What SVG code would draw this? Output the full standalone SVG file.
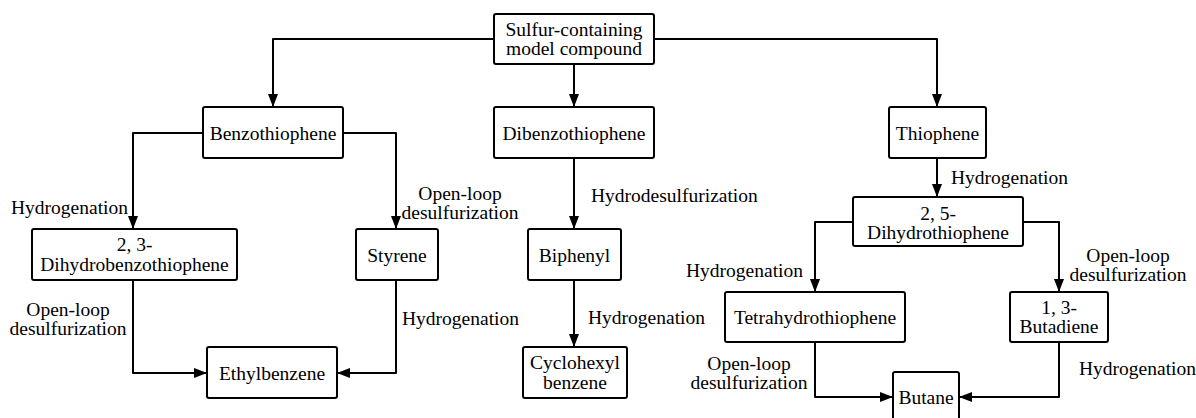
<svg xmlns="http://www.w3.org/2000/svg" width="1196" height="418" viewBox="0 0 1196 418">
<style>
.box{fill:#fff;stroke:#000;stroke-width:2;}
text{font-family:'Times New Roman',Times,'Nimbus Roman','Noto Serif','FreeSerif','Tinos','Liberation Serif','DejaVu Serif',serif;font-size:19.5px;fill:#000;}
.c{text-anchor:middle;}
.e{text-anchor:end;}
.ln{fill:none;stroke:#000;stroke-width:2;stroke-linejoin:round;marker-end:url(#ah);}
</style>
<defs>
<marker id="ah" markerUnits="userSpaceOnUse" markerWidth="14" markerHeight="10" viewBox="0 0 14 10" refX="13" refY="5" orient="auto">
<path d="M0,0 L13,5 L0,10 Z" fill="#000"/>
</marker>
</defs>
<rect width="1196" height="418" fill="#fff"/>
<g id="connectors">
<path class="ln" d="M494 39 H273 V107"/>
<path class="ln" d="M574 64 V107"/>
<path class="ln" d="M654 39 H937 V107"/>
<path class="ln" d="M203 133 H133 V229"/>
<path class="ln" d="M343 133 H396 V229"/>
<path class="ln" d="M574 158 V229"/>
<path class="ln" d="M937 158 V197"/>
<path class="ln" d="M133 280 V373 H207"/>
<path class="ln" d="M396 280 V373 H337"/>
<path class="ln" d="M574 280 V347"/>
<path class="ln" d="M853 222 H815 V292"/>
<path class="ln" d="M1023 222 H1059 V292"/>
<path class="ln" d="M815 342 V397 H893"/>
<path class="ln" d="M1059 342 V397 H959"/>
</g>
<g id="labels">
<text class="e" x="128" y="213.5">Hydrogenation</text>
<text class="c" x="460" y="199.5">Open-loop</text>
<text class="c" x="460" y="219">desulfurization</text>
<text x="591" y="201.5">Hydrodesulfurization</text>
<text class="c" x="68" y="315.5">Open-loop</text>
<text class="c" x="68" y="334.5">desulfurization</text>
<text x="402" y="324.5">Hydrogenation</text>
<text x="588" y="323.5">Hydrogenation</text>
<text x="951" y="183.5">Hydrogenation</text>
<text class="e" x="803" y="276.5">Hydrogenation</text>
<text class="c" x="1128" y="261.5">Open-loop</text>
<text class="c" x="1128" y="280.5">desulfurization</text>
<text class="c" x="749" y="369.5">Open-loop</text>
<text class="c" x="749" y="388.5">desulfurization</text>
<text x="1079" y="374.5">Hydrogenation</text>
</g>
<g id="n-top">
<rect class="box" x="494" y="14" width="160" height="50" rx="2"/>
<text class="c" x="574" y="35.5">Sulfur-containing</text>
<text class="c" x="574" y="54.5">model compound</text>
</g>
<g id="n-benzothiophene">
<rect class="box" x="203" y="107" width="140" height="51" rx="2"/>
<text class="c" x="273" y="139.5">Benzothiophene</text>
</g>
<g id="n-dibenzothiophene">
<rect class="box" x="494" y="107" width="160" height="51" rx="2"/>
<text class="c" x="574" y="139.5">Dibenzothiophene</text>
</g>
<g id="n-thiophene">
<rect class="box" x="889" y="107" width="97" height="51" rx="2"/>
<text class="c" x="937.5" y="139.5">Thiophene</text>
</g>
<g id="n-dihydrobenzothiophene">
<rect class="box" x="32" y="229" width="205" height="51" rx="2"/>
<text class="c" x="134.5" y="251">2, 3-</text>
<text class="c" x="134.5" y="271">Dihydrobenzothiophene</text>
</g>
<g id="n-styrene">
<rect class="box" x="356" y="229" width="82" height="51" rx="2"/>
<text class="c" x="397" y="261.5">Styrene</text>
</g>
<g id="n-biphenyl">
<rect class="box" x="528" y="229" width="93" height="51" rx="2"/>
<text class="c" x="574.5" y="261.5">Biphenyl</text>
</g>
<g id="n-ethylbenzene">
<rect class="box" x="207" y="347" width="130" height="51" rx="2"/>
<text class="c" x="272" y="379.5">Ethylbenzene</text>
</g>
<g id="n-cyclohexylbenzene">
<rect class="box" x="523" y="347" width="104" height="51" rx="2"/>
<text class="c" x="575" y="369">Cyclohexyl</text>
<text class="c" x="575" y="389">benzene</text>
</g>
<g id="n-dihydrothiophene">
<rect class="box" x="853" y="197" width="170" height="49" rx="2"/>
<text class="c" x="938" y="219.5">2, 5-</text>
<text class="c" x="938" y="238.5">Dihydrothiophene</text>
</g>
<g id="n-tetrahydrothiophene">
<rect class="box" x="725" y="292" width="180" height="50" rx="2"/>
<text class="c" x="815" y="323.5">Tetrahydrothiophene</text>
</g>
<g id="n-butadiene">
<rect class="box" x="1010" y="292" width="98" height="50" rx="2"/>
<text class="c" x="1059" y="313.5">1, 3-</text>
<text class="c" x="1059" y="332.5">Butadiene</text>
</g>
<g id="n-butane">
<rect class="box" x="893" y="372" width="66" height="52" rx="2"/>
<text class="c" x="926" y="403.5">Butane</text>
</g>
</svg>
